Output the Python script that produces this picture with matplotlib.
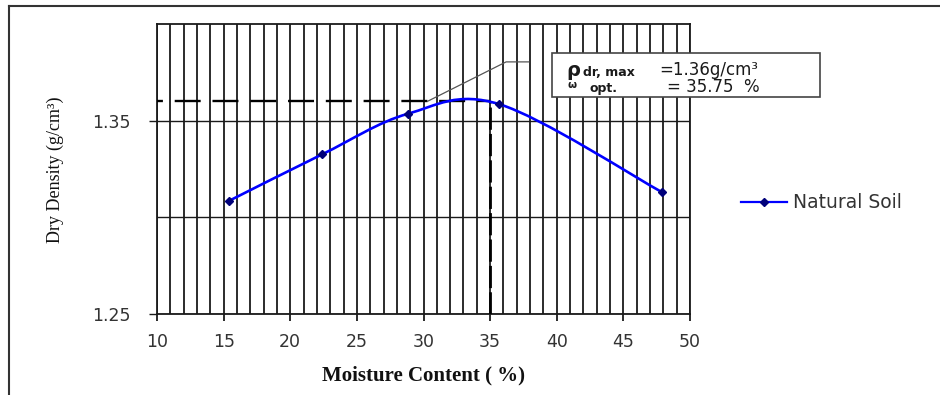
import matplotlib
matplotlib.use('Agg')
import matplotlib.pyplot as plt
from matplotlib.path import Path
from matplotlib.patches import PathPatch, Rectangle
from matplotlib.lines import Line2D
from matplotlib.ticker import FixedLocator, MultipleLocator

# ---- data ----
moisture = [15.4, 22.4, 28.8, 35.7, 47.9]
dry_density = [1.3085, 1.3326, 1.3535, 1.3585, 1.313]
series_name = 'Natural Soil'
x_ticks = [10, 15, 20, 25, 30, 35, 40, 45, 50]
y_ticks = [1.25, 1.35]
y_tick_labels = ['1.25', '1.35']
y_minor_grid = [1.30]
max_dry_density = 1.36
opt_line_x = 35.0
leader_x = [30.3, 36.2, 37.9]
leader_y = [1.36, 1.3804, 1.3804]

fig = plt.figure(figsize=(9.4, 3.95), dpi=100)
ax = fig.add_axes([157/940, 1-314/395, 533/940, 290/395])
ax.set_xlim(10, 50)
ax.set_ylim(1.25, 1.40)

gridc = '#1a1a1a'
tickfont = 'DejaVu Sans'
ax.xaxis.set_major_locator(FixedLocator(x_ticks))
ax.xaxis.set_minor_locator(MultipleLocator(1))
ax.yaxis.set_major_locator(FixedLocator(y_ticks))
ax.yaxis.set_minor_locator(FixedLocator(y_minor_grid))
ax.set_yticklabels(y_tick_labels)
ax.grid(True, which='both', axis='x', color=gridc, lw=1.3)
ax.grid(True, which='both', axis='y', color=gridc, lw=1.0)
ax.set_axisbelow(True)
for s in ax.spines.values():
    s.set_color(gridc)
    s.set_linewidth(1.3)
ax.tick_params(axis='x', which='major', direction='out', length=5, width=1.3,
               color=gridc, pad=9, labelsize=12.5, labelcolor='#333333')
ax.tick_params(axis='y', which='major', direction='out', length=6, width=1.0,
               color=gridc, pad=13, labelsize=12.5, labelcolor='#333333')
ax.tick_params(which='minor', length=0)
for lab in ax.get_xticklabels() + ax.get_yticklabels():
    lab.set_family(tickfont)

# smooth curve (Catmull-Rom style bezier, like Excel smoothing)
n = len(moisture)
verts = [(moisture[0], dry_density[0])]
codes = [Path.MOVETO]
for i in range(n - 1):
    p0 = (moisture[max(i-1, 0)], dry_density[max(i-1, 0)])
    p1 = (moisture[i], dry_density[i])
    p2 = (moisture[i+1], dry_density[i+1])
    p3 = (moisture[min(i+2, n-1)], dry_density[min(i+2, n-1)])
    c1 = (p1[0] + (p2[0]-p0[0])/6, p1[1] + (p2[1]-p0[1])/6)
    c2 = (p2[0] - (p3[0]-p1[0])/6, p2[1] - (p3[1]-p1[1])/6)
    verts += [c1, c2, p2]
    codes += [Path.CURVE4]*3
ax.add_patch(PathPatch(Path(verts, codes), fill=False, edgecolor='#0000ff',
                       lw=1.9, zorder=4, capstyle='round'))
ax.plot(moisture, dry_density, ls='none', marker='D', ms=4.5,
        color='#00007a', zorder=5)

# dashed reference lines
ax.plot([10, opt_line_x], [max_dry_density, max_dry_density],
        color='black', lw=1.7, zorder=3, ls=(8.5, (11, 5)))
ax.plot([opt_line_x, opt_line_x], [1.25, max_dry_density],
        color='black', lw=2.0, zorder=3, ls=(0, (8, 1.5)))

# leader line
ax.plot(leader_x, leader_y, color='#555555', lw=0.9, zorder=3)

# annotation box
fig.patches.append(Rectangle((552/940, 1-97/395), 268/940, 44/395,
                             transform=fig.transFigure, facecolor='white',
                             edgecolor='#444444', lw=1.2, zorder=10))
tf = dict(transform=fig.transFigure, zorder=11, color='#1a1a1a', va='baseline')
fig.text(566/940, 1-76/395, 'ρ', fontsize=14, fontweight='bold', family='DejaVu Sans', **tf)
fig.text(583/940, 1-76/395, 'dr, max', fontsize=9, fontweight='bold', family='DejaVu Sans', **tf)
fig.text(659/940, 1-75/395, '=1.36g/cm³', fontsize=12, family='DejaVu Sans', **tf)
fig.text(567/940, 1-88/395, 'ω', fontsize=7.5, fontweight='bold', family='DejaVu Sans', **tf)
fig.text(590/940, 1-92/395, 'opt.', fontsize=9, fontweight='bold', family='DejaVu Sans', **tf)
fig.text(667/940, 1-92/395, '= 35.75  %', fontsize=12, family='DejaVu Sans', **tf)

# legend
handle = Line2D([], [], color='#0000ff', lw=1.6, marker='D', ms=4,
                markerfacecolor='#00007a', markeredgecolor='#00007a')
leg = fig.legend([handle], [series_name], loc='center left',
                 bbox_to_anchor=(724/940, 1-203/395), frameon=False,
                 handlelength=2.45, handletextpad=0.35,
                 prop={'family': 'DejaVu Sans', 'size': 13.5})
for t in leg.get_texts():
    t.set_color('#333333')

# axis titles
fig.text(0.45, 1-375/395, 'Moisture Content ( %)', ha='center', va='center',
         fontsize=15, fontweight='bold', family='Liberation Serif', color='#111111')
fig.text(55/940, 1-170/395, 'Dry Density (g/cm³)', ha='center', va='center',
         rotation=90, fontsize=13, family='Liberation Serif', color='#111111')

# outer chart-area border
fig.add_artist(Line2D([9/940, 9/940], [0, 1-6/395], transform=fig.transFigure,
                      color='#333333', lw=1.5))
fig.add_artist(Line2D([9/940, 1], [1-6/395, 1-6/395], transform=fig.transFigure,
                      color='#333333', lw=1.5))

fig.savefig('out.png', dpi=100)
